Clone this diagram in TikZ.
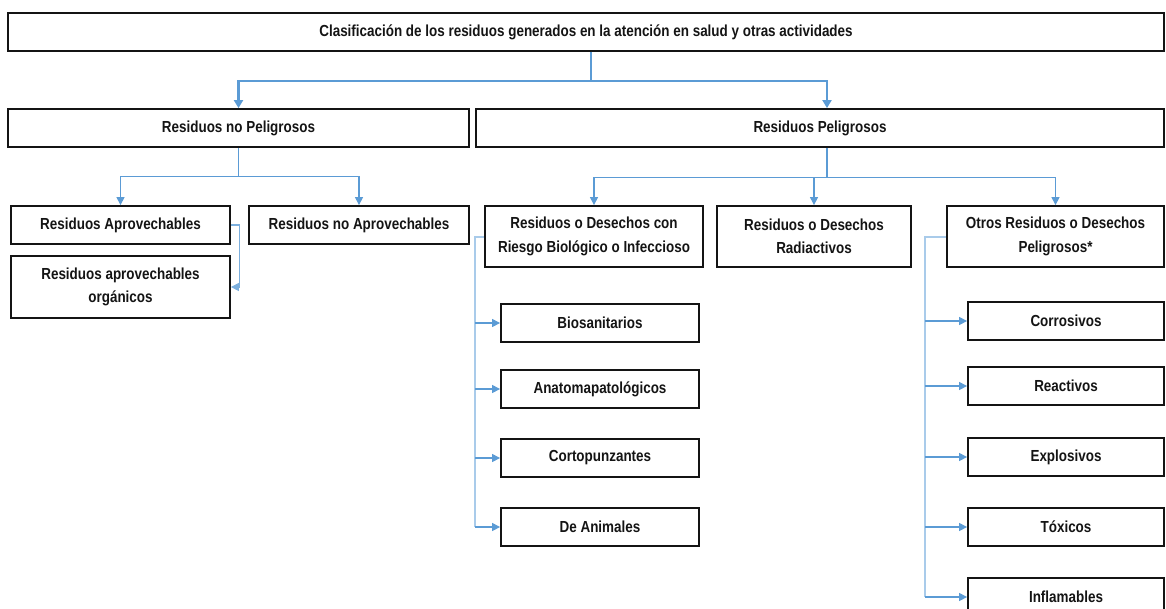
\documentclass[tikz,border=0pt]{standalone}
\usepackage{fontspec}
\setmainfont{Liberation Sans}[FakeStretch=0.84]
\usetikzlibrary{arrows.meta}

\definecolor{linkblue}{HTML}{5B9BD5}
\definecolor{barblue}{HTML}{A9CBEA}
\definecolor{inkgray}{HTML}{141414}

\tikzset{
    box/.style={draw=inkgray, line width=1.8pt, text=inkgray, align=center,
        font=\fontsize{16}{23.5}\selectfont\bfseries, inner sep=0pt, minimum height=38pt},
    tall/.style={box, minimum height=61pt},
    main/.style={draw=linkblue, line width=2.4pt, -{Triangle[length=8pt,width=9pt]}},
    sub/.style={draw=linkblue, line width=1.1pt, -{Triangle[length=8pt,width=8pt]}},
    bar/.style={draw=barblue, line width=2pt},
}

\begin{document}
\begin{tikzpicture}[x=1pt, y=-1pt]
        \clip (0,0) rectangle (1166,608);

        \node[box, minimum width=1156pt] (top) at (586,32)
            {Clasificación de los residuos generados en la atención en salud y otras actividades};

        \node[box, minimum width=461pt] (noPel) at (238.5,128) {Residuos no Peligrosos};
        \node[box, minimum width=688pt] (pel) at (820,128) {Residuos Peligrosos};

        \node[box, minimum width=219pt] (aprov) at (120.5,225) {Residuos Aprovechables};
        \node[box, minimum width=220pt] (noAprov) at (359,225) {Residuos no Aprovechables};
        \node[box, minimum width=219pt, minimum height=62pt] (organ) at (120.5,287) {Residuos aprovechables\\orgánicos};

        \node[tall, minimum width=218pt] (bio) at (594,236.5) {Residuos o Desechos con\\Riesgo Biológico o Infeccioso};
        \node[tall, minimum width=194pt] (radio) at (814,236.5) {Residuos o Desechos\\Radiactivos};
        \node[tall, minimum width=217pt] (otros) at (1055.5,236.5) {Otros Residuos o Desechos\\Peligrosos*};

        \node[box, minimum width=198pt] (biosan) at (600,323) {Biosanitarios};
        \node[box, minimum width=198pt] (anato) at (600,389) {Anatomapatológicos};
        \node[box, minimum width=198pt] (corto) at (600,458) {Cortopunzantes};
        \node[box, minimum width=198pt] (anim) at (600,527) {De Animales};

        \node[box, minimum width=196pt] (corro) at (1066,321) {Corrosivos};
        \node[box, minimum width=196pt] (react) at (1066,386) {Reactivos};
        \node[box, minimum width=196pt] (explo) at (1066,457) {Explosivos};
        \node[box, minimum width=196pt] (toxic) at (1066,527) {Tóxicos};
        \node[box, minimum width=196pt] (infla) at (1066,597) {Inflamables};

        \draw[main] ([xshift=5pt]top.south) -- ++(0,29) -| (noPel.north);
        \draw[main] ([xshift=5pt]top.south) -- ++(0,29) -| ([xshift=7pt]pel.north);

        \draw[sub] (noPel.south) -- ++(0,29) -| (aprov.north);
        \draw[sub] (noPel.south) -- ++(0,29) -| (noAprov.north);
        \draw[sub, draw=linkblue!80] (aprov.east) -- ++(9,0) |- (organ.east);

        \draw[sub] ([xshift=7pt]pel.south) -- ++(0,30) -| (bio.north);
        \draw[sub] ([xshift=7pt]pel.south) -- ++(0,30) -| (radio.north);
        \draw[sub] ([xshift=7pt]pel.south) -- ++(0,30) -| (otros.north);

        \draw[bar] (bio.west) -- ++(-9,0) coordinate (bioBar) -- (bioBar |- anim.west);
        \draw[sub] (bioBar |- biosan.west) -- (biosan.west);
        \draw[sub] (bioBar |- anato.west) -- (anato.west);
        \draw[sub] (bioBar |- corto.west) -- (corto.west);
        \draw[sub] (bioBar |- anim.west) -- (anim.west);

        \draw[bar] (otros.west) -- ++(-21,0) coordinate (otrosBar) -- (otrosBar |- infla.west);
        \draw[sub] (otrosBar |- corro.west) -- (corro.west);
        \draw[sub] (otrosBar |- react.west) -- (react.west);
        \draw[sub] (otrosBar |- explo.west) -- (explo.west);
        \draw[sub] (otrosBar |- toxic.west) -- (toxic.west);
        \draw[sub] (otrosBar |- infla.west) -- (infla.west);
    \end{tikzpicture}
\end{document}
